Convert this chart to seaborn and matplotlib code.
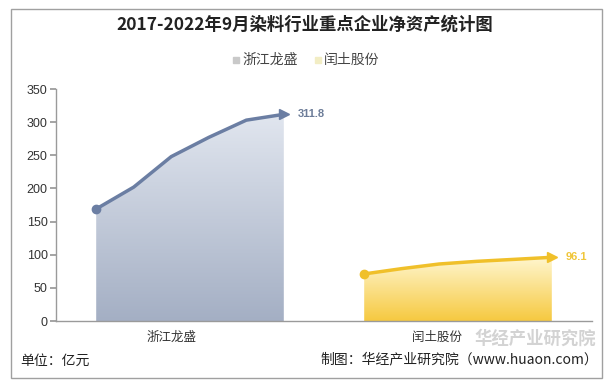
import numpy as np
import pandas as pd
import matplotlib
matplotlib.use("Agg")
import matplotlib.pyplot as plt
import seaborn as sns
from matplotlib.colors import LinearSegmentedColormap
from matplotlib.patches import Rectangle

companies = ["浙江龙盛", "闰土股份"]
years = ["2017", "2018", "2019", "2020", "2021", "2022年9月"]
longsheng = [169, 202, 248, 277, 303, 311.8]
runtu = [71, 79, 86, 90, 93, 96.1]
yticks = [0, 50, 100, 150, 200, 250, 300, 350]

line_colors = ["#6b7ea3", "#f0c02a"]
grad_top = ["#e1e6ef", "#fff6cf"]
grad_bot = ["#a4afc4", "#f6c940"]
label_colors = ["#6c7c98", "#f0c63a"]
legend_colors = ["#c9c9c9", "#f2edc4"]

sns.set_theme(style="white")
plt.rcParams['font.family'] = ['Noto Sans CJK SC', 'DejaVu Sans']

rows = []
n = len(years)
offsets = np.linspace(-0.35, 0.35, n)
for ci, (name, vals) in enumerate(zip(companies, [longsheng, runtu])):
    for yi, v in enumerate(vals):
        rows.append({"company": name, "year": years[yi], "x": ci + offsets[yi], "value": v})
df = pd.DataFrame(rows)

fig = plt.figure(figsize=(6.1, 3.84), dpi=100)
ax = fig.add_axes([56/610, 1-321/384, (592-56)/610, (321-89)/384])

for ci, name in enumerate(companies):
    sub = df[df.company == name]
    xs = sub.x.values
    vs = sub.value.values
    cmap = LinearSegmentedColormap.from_list("g", [grad_bot[ci], grad_top[ci]])
    poly = ax.fill_between(xs, 0, vs, color="none", lw=0)
    grad = np.linspace(0, 1, 256).reshape(-1, 1)
    im = ax.imshow(grad, cmap=cmap, aspect="auto", origin="lower",
                   extent=[xs.min(), xs.max(), 0, vs.max()], zorder=1)
    path = poly.get_paths()[0]
    im.set_clip_path(path, transform=ax.transData)
    sns.lineplot(data=sub, x="x", y="value", ax=ax, color=line_colors[ci], lw=2.5,
                 zorder=3, legend=False)
    ax.plot(xs[0], vs[0], "o", color=line_colors[ci], ms=6, zorder=4)
    ax.plot(xs[-1], vs[-1], ">", color=line_colors[ci], ms=6.5, zorder=4)
    ax.annotate(f"{vs[-1]:g}", (xs[-1], vs[-1]), xytext=(10, 0), textcoords="offset points",
                ha="left", va="center", fontsize=8, fontweight="bold",
                color=label_colors[ci], family=["Liberation Sans", "DejaVu Sans"])

ax.set_xlim(-0.5, 1.5)
ax.set_ylim(0, 350)
ax.set_yticks(yticks)
ax.set_yticklabels([str(t) for t in yticks], fontsize=9, color="#333333",
                   family=["Liberation Sans", "DejaVu Sans"])
ax.set_xticks([-0.5, 0.5, 1.5])
ax.set_xticklabels([])
ax.set_xticks([-0.07, 0.92], minor=True)
ax.set_xticklabels(companies, minor=True, fontsize=9, color="#333333")
ax.tick_params(axis="x", which="minor", length=0, pad=7)
ax.tick_params(axis="x", which="major", length=4, color="#999999", direction="out")
ax.tick_params(axis="y", length=4, color="#999999", direction="out", pad=2, left=True)
ax.set_xlabel("")
ax.set_ylabel("")
for s in ["top", "right"]:
    ax.spines[s].set_visible(False)
for s in ["left", "bottom"]:
    ax.spines[s].set_color("#9a9a9a")
    ax.spines[s].set_linewidth(1)

fig.add_artist(Rectangle((11/610, 1-378/384), (602-11)/610, (378-9)/384,
                         transform=fig.transFigure, fill=False, ec="#a0a0a0", lw=1))

fig.text(0.5, 1-25/384, "2017-2022年9月染料行业重点企业净资产统计图", ha="center", va="center",
         fontsize=12.5, fontweight="bold", color="#222222")

# legend
lx = [233, 315]
for i, name in enumerate(companies):
    fig.add_artist(Rectangle(((lx[i])/610, 1-63/384), 6/610, 6/384, transform=fig.transFigure,
                             color=legend_colors[i]))
    fig.text((lx[i]+9)/610, 1-60/384, name, ha="left", va="center", fontsize=10, color="#444444")

fig.text(474/610, 1-339/384, "华经产业研究院", ha="left", va="center", fontsize=12.5,
         fontweight="bold", color="#c8c8c8", alpha=0.8)
fig.text(20/610, 1-361/384, "单位：亿元", ha="left", va="center", fontsize=10, color="#222222")
fig.text(598/610, 1-359/384, "制图：华经产业研究院（www.huaon.com）", ha="right", va="center",
         fontsize=10, color="#222222")

fig.savefig("out.png", dpi=100)
